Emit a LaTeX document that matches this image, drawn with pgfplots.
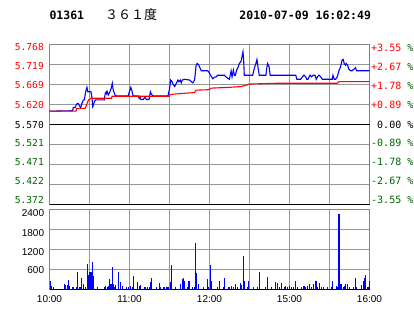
\documentclass[border=0pt]{standalone}
\usepackage{fontspec}
\setmainfont{Liberation Sans}
\newfontfamily\monofont{DejaVu Sans Mono}
\newfontfamily\cjk{Noto Sans CJK SC}
\usepackage{pgfplots}
\usepackage{pgfplotstable}
\pgfplotsset{compat=1.18}
\definecolor{dg}{RGB}{0,100,0}
\definecolor{gridc}{RGB}{150,150,150}
\definecolor{framec}{RGB}{135,135,135}

\pgfplotstableread{
t p
0 5.603
17.2 5.604
17.9 5.612
19.2 5.612
20.4 5.621
21.7 5.622
22.4 5.616
23.4 5.612
24.2 5.621
25.4 5.631
26.2 5.631
26.7 5.643
27.4 5.655
28.1 5.662
28.7 5.651
31.1 5.651
31.9 5.635
32.4 5.614
32.9 5.618
33.6 5.626
34.6 5.631
41.1 5.631
41.8 5.647
42.6 5.651
42.8 5.647
43.3 5.651
44.1 5.643
45.3 5.651
46.3 5.660
47.1 5.672
47.8 5.655
49.1 5.643
49.8 5.641
59.0 5.641
60.3 5.655
61.0 5.662
62.0 5.651
62.7 5.641
66.5 5.641
67.2 5.635
67.7 5.639
68.5 5.632
70.2 5.632
71.5 5.637
72.7 5.632
74.7 5.632
75.7 5.651
76.4 5.645
77.7 5.641
88.9 5.641
90.1 5.660
90.9 5.680
91.9 5.676
92.6 5.670
93.9 5.664
95.1 5.672
96.3 5.680
97.1 5.676
98.1 5.680
98.8 5.673
99.6 5.680
101.3 5.682
105.1 5.680
106.3 5.676
107.5 5.673
108.8 5.680
110.0 5.717
110.8 5.721
112.0 5.717
113.0 5.709
113.8 5.703
118.7 5.703
120.0 5.697
121.2 5.690
122.5 5.683
123.7 5.687
125.0 5.688
126.2 5.692
131.2 5.692
132.4 5.688
133.7 5.684
134.9 5.682
136.2 5.703
136.9 5.688
137.9 5.705
138.7 5.692
139.4 5.692
140.4 5.705
141.6 5.713
142.4 5.721
143.6 5.726
144.4 5.738
145.1 5.750
145.6 5.730
146.1 5.692
152.4 5.692
153.6 5.709
154.8 5.721
155.6 5.731
156.3 5.713
157.3 5.692
162.3 5.692
163.1 5.713
163.6 5.721
164.8 5.711
165.5 5.692
184.7 5.692
185.5 5.682
188.4 5.682
189.7 5.688
190.9 5.692
192.2 5.688
192.9 5.682
193.9 5.682
194.7 5.688
195.4 5.692
196.4 5.688
197.7 5.692
199.1 5.692
200.1 5.682
200.9 5.688
202.1 5.692
203.4 5.688
204.6 5.682
212.1 5.682
212.6 5.692
213.6 5.682
214.6 5.682
215.8 5.688
217.1 5.703
218.3 5.713
219.5 5.730
220.3 5.731
221.0 5.721
222.0 5.717
222.5 5.721
223.5 5.717
224.5 5.707
225.8 5.703
227.0 5.703
228.3 5.707
229.5 5.711
230.3 5.703
240.0 5.703
}\pricetable

\pgfplotstableread{
t p
0 5.603
19.9 5.603
20.4 5.610
26.7 5.610
27.5 5.616
28.4 5.624
29.2 5.630
30.5 5.634
31.6 5.635
46.6 5.635
46.9 5.640
89.6 5.640
90.1 5.643
92.6 5.645
100.1 5.647
108.8 5.649
110.0 5.655
118.7 5.656
120.0 5.657
121.2 5.660
134.9 5.662
144.4 5.664
144.7 5.665
148.4 5.668
149.1 5.670
169.7 5.672
215.8 5.672
217.1 5.676
240 5.676
}\avgtable

\pgfplotstableread{
t v
0.5 245
1.3 100
3.0 70
11.2 180
12.2 150
13.7 130
14.2 300
15.0 100
17.2 70
17.9 70
20.4 70
20.9 520
22.4 70
23.4 70
23.9 340
25.4 160
26.7 70
28.4 760
29.1 440
29.9 520
31.1 520
32.1 830
32.9 400
35.9 70
41.1 70
41.8 100
43.3 70
44.1 100
44.8 310
46.1 160
47.1 680
47.8 160
49.1 70
49.8 130
52.0 520
53.3 220
55.0 100
58.0 70
59.3 70
61.0 100
62.0 70
62.7 400
65.7 220
67.2 100
68.0 130
71.0 70
72.0 70
73.5 70
74.7 70
75.9 220
76.7 340
80.2 70
82.2 190
82.9 70
85.6 70
86.4 70
87.9 70
88.9 70
90.9 220
91.6 740
94.6 70
98.3 160
99.8 310
100.6 340
101.3 250
103.8 70
104.6 250
107.5 70
108.8 70
109.8 1410
110.5 500
112.0 160
115.8 70
118.7 310
119.5 70
120.7 740
121.7 250
126.2 70
127.7 250
130.7 70
131.4 340
134.2 70
135.2 70
136.7 100
137.7 70
139.7 160
141.1 70
143.4 190
144.1 130
145.6 1010
146.4 250
148.6 70
149.4 250
153.1 70
156.1 70
157.6 520
162.1 70
163.6 370
166.5 70
169.5 220
171.0 190
172.5 70
174.0 190
176.0 70
177.0 100
178.5 70
180.0 100
181.5 70
183.0 70
184.5 250
186.0 70
188.9 70
190.9 100
191.9 70
193.4 100
194.9 160
196.4 70
197.9 160
199.9 250
200.9 70
202.4 190
203.9 70
205.4 70
208.4 70
211.3 70
212.1 250
215.1 100
215.8 70
217.1 2260
217.8 250
218.6 160
220.3 70
221.0 100
222.0 160
223.5 160
224.8 70
227.8 70
229.3 340
230.3 70
233.7 130
235.2 250
236.2 340
237.0 440
238.2 70
239.2 70
239.7 250
}\voltable

\newcommand{\lab}{\monofont\fontsize{9.6}{10}\selectfont}
\newcommand{\rlab}{\monofont\fontsize{10}{11}\selectfont}
\newcommand{\vlab}{\fontsize{10}{11}\selectfont}

\begin{document}
\begin{tikzpicture}[x=1pt,y=1pt]
\useasboundingbox (0,0) rectangle (414,314);
\node[anchor=base west, inner sep=0, font=\monofont\bfseries\fontsize{11.5}{12}\selectfont] at (49.3,294) {01361};
\node[anchor=base west, inner sep=0, font=\cjk\fontsize{13}{14}\selectfont] at (104.8,294) {３６１度};
\node[anchor=base east, inner sep=0, font=\monofont\bfseries\fontsize{11.5}{12}\selectfont] at (371.2,294) {2010-07-09 16:02:49};

\begin{axis}[name=price, at={(49.5pt,109.5pt)}, anchor=south west, scale only axis,
  width=320pt, height=160pt,
  xmin=0, xmax=240, ymin=5.372, ymax=5.768,
  xtick=\empty, ytick=\empty, hide axis, clip=false]
\draw[draw=gridc, line width=1pt] (axis cs:30,5.372) -- (axis cs:30,5.768);
\draw[draw=gridc, line width=1pt] (axis cs:60,5.372) -- (axis cs:60,5.768);
\draw[draw=gridc, line width=1pt] (axis cs:90,5.372) -- (axis cs:90,5.768);
\draw[draw=gridc, line width=1pt] (axis cs:120,5.372) -- (axis cs:120,5.768);
\draw[draw=gridc, line width=1pt] (axis cs:150,5.372) -- (axis cs:150,5.768);
\draw[draw=gridc, line width=1pt] (axis cs:180,5.372) -- (axis cs:180,5.768);
\draw[draw=gridc, line width=1pt] (axis cs:210,5.372) -- (axis cs:210,5.768);
\draw[draw=gridc, line width=1pt] (axis cs:0,5.4215) -- (axis cs:240,5.4215);
\draw[draw=gridc, line width=1pt] (axis cs:0,5.471) -- (axis cs:240,5.471);
\draw[draw=gridc, line width=1pt] (axis cs:0,5.5205) -- (axis cs:240,5.5205);
\draw[draw=gridc, line width=1pt] (axis cs:0,5.6195) -- (axis cs:240,5.6195);
\draw[draw=gridc, line width=1pt] (axis cs:0,5.669) -- (axis cs:240,5.669);
\draw[draw=gridc, line width=1pt] (axis cs:0,5.7185) -- (axis cs:240,5.7185);
\draw[draw=framec, line width=1pt] (axis cs:0,5.372) -- (axis cs:0,5.768) -- (axis cs:240,5.768);
\draw[draw=gray, line width=1pt] (axis cs:240,5.768) -- (axis cs:240,5.372);
\draw[black, line width=1pt] (axis cs:0,5.570) -- (axis cs:240,5.570);
\draw[black, line width=1pt] (axis cs:0,5.372) -- (axis cs:240,5.372);
\addplot[blue, line width=1.1pt, no markers] table[x=t,y=p] {\pricetable};
\addplot[red, line width=1.1pt, no markers] table[x=t,y=p] {\avgtable};
\end{axis}

\begin{axis}[name=vol, at={(49.5pt,24.5pt)}, anchor=south west, scale only axis,
  width=320pt, height=80pt,
  xmin=0, xmax=240, ymin=0, ymax=2400,
  xtick=\empty, ytick=\empty, hide axis, clip=false]
\draw[draw=gridc, line width=1pt] (axis cs:30,0) -- (axis cs:30,2400);
\draw[draw=gridc, line width=1pt] (axis cs:60,0) -- (axis cs:60,2400);
\draw[draw=gridc, line width=1pt] (axis cs:90,0) -- (axis cs:90,2400);
\draw[draw=gridc, line width=1pt] (axis cs:120,0) -- (axis cs:120,2400);
\draw[draw=gridc, line width=1pt] (axis cs:150,0) -- (axis cs:150,2400);
\draw[draw=gridc, line width=1pt] (axis cs:180,0) -- (axis cs:180,2400);
\draw[draw=gridc, line width=1pt] (axis cs:210,0) -- (axis cs:210,2400);
\draw[draw=gridc, line width=1pt] (axis cs:0,600) -- (axis cs:240,600);
\draw[draw=gridc, line width=1pt] (axis cs:0,1200) -- (axis cs:240,1200);
\draw[draw=gridc, line width=1pt] (axis cs:0,1800) -- (axis cs:240,1800);
\draw[draw=framec, line width=1pt] (axis cs:0,0) rectangle (axis cs:240,2400);
\addplot[ycomb, blue, line width=1.1pt, no markers] table[x=t,y=v] {\voltable};
\draw[black, line width=1pt] (axis cs:0,0) -- (axis cs:240,0);
\end{axis}

\begin{scope}[every node/.style={inner sep=0pt}]
\node[anchor=east, font=\lab, red] at (44,266.5) {5.768};
\node[anchor=east, font=\lab, red] at (44,247.5) {5.719};
\node[anchor=east, font=\lab, red] at (44,228.5) {5.669};
\node[anchor=east, font=\lab, red] at (44,209.4) {5.620};
\node[anchor=east, font=\lab] at (44,189.3) {5.570};
\node[anchor=east, font=\lab, dg] at (44,171.3) {5.521};
\node[anchor=east, font=\lab, dg] at (44,152.3) {5.471};
\node[anchor=east, font=\lab, dg] at (44,133.3) {5.422};
\node[anchor=east, font=\lab, dg] at (44,114.3) {5.372};
\node[anchor=west, font=\rlab] at (371,266.5) {\color{red}+3.55 \color{dg}\%};
\node[anchor=west, font=\rlab] at (371,247.5) {\color{red}+2.67 \color{dg}\%};
\node[anchor=west, font=\rlab] at (371,228.5) {\color{red}+1.78 \color{dg}\%};
\node[anchor=west, font=\rlab] at (371,209.4) {\color{red}+0.89 \color{dg}\%};
\node[anchor=west, font=\rlab] at (371,189.3) {\ 0.00 \%};
\node[anchor=west, font=\rlab, dg] at (371,171.3) {-0.89 \%};
\node[anchor=west, font=\rlab, dg] at (371,152.3) {-1.78 \%};
\node[anchor=west, font=\rlab, dg] at (371,133.3) {-2.67 \%};
\node[anchor=west, font=\rlab, dg] at (371,114.3) {-3.55 \%};
\node[anchor=east, font=\vlab] at (44.3,101) {2400};
\node[anchor=east, font=\vlab] at (44.3,81.3) {1800};
\node[anchor=east, font=\vlab] at (44.3,62) {1200};
\node[anchor=east, font=\vlab] at (44.3,44) {600};
\node[anchor=base, font=\vlab] at (49.5,11.4) {10:00};
\node[anchor=base, font=\vlab] at (129.5,11.4) {11:00};
\node[anchor=base, font=\vlab] at (209.5,11.4) {12:00};
\node[anchor=base, font=\vlab] at (289.5,11.4) {15:00};
\node[anchor=base, font=\vlab] at (369.5,11.4) {16:00};
\end{scope}
\end{tikzpicture}
\end{document}
